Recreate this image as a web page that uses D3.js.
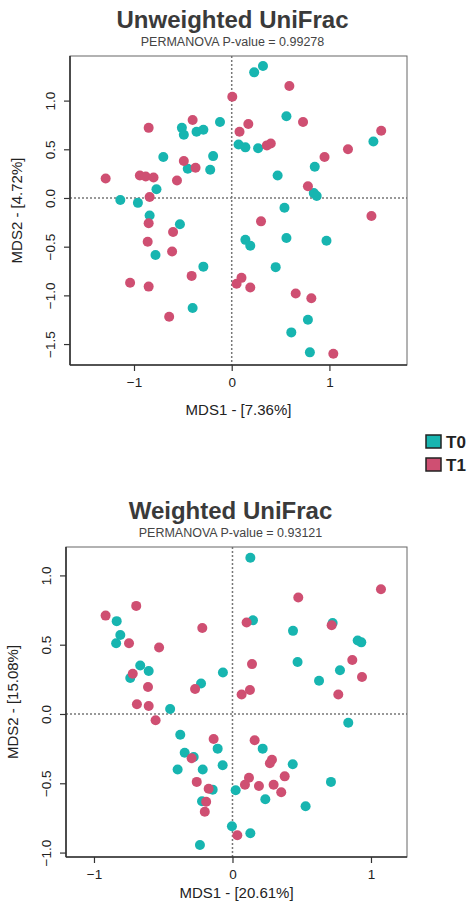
<!DOCTYPE html>
<html>
<head>
<meta charset="utf-8">
<script src="https://cdn.jsdelivr.net/npm/d3@7"></script>
<style>
  body { margin: 0; background: #fff; }
  text { font-family: "Liberation Sans", Arial, sans-serif; }
</style>
</head>
<body>
<div id="chart"></div>
<script>
var svgWidth = 474;
var svgHeight = 907;

// groups and colours
var groups = ["T0", "T1"];
var groupColors = ["#17b5b0", "#cf4f72"];

// Unweighted UniFrac coordinates [MDS1, MDS2]
var unweightedT0 = [
  [-0.51, 0.72], [-0.49, 0.65], [-0.36, 0.68], [-0.29, 0.70], [-0.12, 0.78],
  [0.07, 0.55], [-0.70, 0.42], [-0.19, 0.43], [-0.45, 0.30], [-0.22, 0.29],
  [-0.77, 0.09], [-1.14, -0.02], [-0.96, -0.05], [-0.84, -0.18], [-0.53, -0.27],
  [-0.78, -0.585], [-0.29, -0.705], [-0.40, -1.13], [0.23, 1.29], [0.32, 1.355],
  [0.56, 0.84], [0.14, 0.52], [0.27, 0.51], [1.45, 0.58], [0.85, 0.32],
  [0.47, 0.23], [0.84, 0.05], [0.87, 0.02], [0.54, -0.10], [0.14, -0.43],
  [0.19, -0.49], [0.56, -0.41], [0.97, -0.44], [0.45, -0.71], [0.78, -1.25],
  [0.61, -1.38], [0.80, -1.585]
];
var unweightedT1 = [
  [0.006, 1.04], [-0.40, 0.80], [-0.85, 0.72], [0.08, 0.68], [-0.49, 0.38],
  [-0.37, 0.31], [-1.29, 0.20], [-0.94, 0.23], [-0.88, 0.22], [-0.80, 0.21],
  [-0.56, 0.18], [-0.84, 0.01], [-0.85, -0.26], [-0.60, -0.35], [-0.86, -0.45],
  [-0.61, -0.55], [-0.41, -0.80], [-1.04, -0.87], [-0.85, -0.91], [-0.64, -1.22],
  [0.59, 1.15], [0.17, 0.76], [0.73, 0.78], [0.36, 0.54], [0.40, 0.56],
  [1.53, 0.69], [0.95, 0.42], [1.19, 0.50], [0.78, 0.12], [0.30, -0.24],
  [1.43, -0.185], [0.10, -0.82], [0.05, -0.88], [0.19, -0.92], [0.655, -0.98],
  [0.815, -1.03], [1.04, -1.60]
];

// Weighted UniFrac coordinates [MDS1, MDS2]
var weightedT0 = [
  [-0.836, 0.67], [-0.81, 0.57], [-0.84, 0.51], [-0.666, 0.35], [-0.605, 0.31],
  [-0.738, 0.26], [-0.227, 0.22], [-0.069, 0.30], [-0.45, 0.036], [-0.377, -0.15],
  [-0.107, -0.25], [-0.345, -0.28], [-0.28, -0.31], [-0.071, -0.37], [-0.396, -0.40],
  [-0.215, -0.40], [-0.143, -0.546], [0.023, -0.55], [-0.22, -0.63], [-0.004, -0.81],
  [-0.235, -0.945], [0.836, -0.063], [0.218, -0.25], [0.435, -0.363], [0.711, -0.49],
  [0.237, -0.615], [0.528, -0.666], [0.129, -0.86], [0.129, 1.128], [0.148, 0.676],
  [0.723, 0.656], [0.437, 0.60], [0.904, 0.53], [0.93, 0.517], [0.47, 0.375],
  [0.776, 0.315], [0.625, 0.24]
];
var weightedT1 = [
  [-0.695, 0.78], [-0.916, 0.71], [-0.747, 0.51], [-0.53, 0.48], [-0.218, 0.62],
  [-0.72, 0.29], [-0.61, 0.195], [-0.27, 0.18], [-0.69, 0.07], [-0.605, 0.058],
  [-0.555, -0.045], [-0.136, -0.18], [-0.295, -0.32], [-0.258, -0.49], [-0.172, -0.54],
  [-0.19, -0.633], [-0.20, -0.705], [0.035, -0.875], [0.16, -0.19], [0.285, -0.33],
  [0.27, -0.356], [0.377, -0.45], [0.119, -0.46], [0.09, -0.51], [0.191, -0.52],
  [0.297, -0.51], [0.352, -0.565], [1.072, 0.90], [0.475, 0.84], [0.102, 0.66],
  [0.716, 0.64], [0.865, 0.39], [0.141, 0.36], [0.935, 0.267], [0.126, 0.173],
  [0.066, 0.14], [0.764, 0.14]
];

// tick labels
var unweightedXTicks = [-1, 0, 1];
var unweightedYTicks = [-1.5, -1.0, -0.5, 0.0, 0.5, 1.0];
var weightedXTicks = [-1, 0, 1];
var weightedYTicks = [-1.0, -0.5, 0.0, 0.5, 1.0];

var svg = d3.select("#chart")
  .append("svg")
  .attr("width", svgWidth)
  .attr("height", svgHeight);

// draw one ordination panel
function drawPanel(p) {
  var x = d3.scaleLinear().domain(p.xDomain).range([p.left, p.right]);
  var y = d3.scaleLinear().domain(p.yDomain).range([p.bottom, p.top]);
  var midX = (p.left + p.right) / 2 - 6;

  // titles
  svg.append("text")
    .attr("x", midX).attr("y", p.top - 28)
    .attr("text-anchor", "middle")
    .attr("font-size", 24).attr("font-weight", "bold")
    .attr("fill", "#3a3a3a")
    .text(p.title);
  svg.append("text")
    .attr("x", midX).attr("y", p.top - 10)
    .attr("text-anchor", "middle")
    .attr("font-size", 12.5)
    .attr("fill", "#444")
    .text(p.subtitle);

  // zero lines
  svg.append("line")
    .attr("x1", x(0)).attr("x2", x(0))
    .attr("y1", p.top).attr("y2", p.bottom)
    .attr("stroke", "#777").attr("stroke-width", 1.5)
    .attr("stroke-dasharray", "2,2");
  svg.append("line")
    .attr("x1", p.left).attr("x2", p.right)
    .attr("y1", y(0)).attr("y2", y(0))
    .attr("stroke", "#777").attr("stroke-width", 1.5)
    .attr("stroke-dasharray", "2,2");

  // points, T0 first then T1 on top
  p.series.forEach(function(s, i) {
    svg.append("g").selectAll("circle")
      .data(s)
      .enter()
      .append("circle")
      .attr("cx", d => x(d[0]))
      .attr("cy", d => y(d[1]))
      .attr("r", 5)
      .attr("fill", groupColors[i]);
  });

  // frame
  svg.append("rect")
    .attr("x", p.left).attr("y", p.top)
    .attr("width", p.right - p.left).attr("height", p.bottom - p.top)
    .attr("fill", "none").attr("stroke", "#666").attr("stroke-width", 1);

  // axes
  var xAxis = svg.append("g")
    .attr("transform", `translate(0, ${p.bottom})`)
    .call(d3.axisBottom(x).tickValues(p.xTicks).tickSize(6).tickSizeOuter(0).tickFormat(d3.format("d")));
  var yAxis = svg.append("g")
    .attr("transform", `translate(${p.left}, 0)`)
    .call(d3.axisLeft(y).tickValues(p.yTicks).tickSize(6).tickSizeOuter(0).tickFormat(d3.format(".1f")));

  [xAxis, yAxis].forEach(function(a) {
    a.select(".domain").attr("stroke", "#333").attr("stroke-width", 1.6)
      .attr("d", a === xAxis ? `M${p.left},0H${p.right}` : `M0,${p.top}V${p.bottom}`);
    a.selectAll(".tick line").attr("stroke", "#333").attr("stroke-width", 1.2);
    a.selectAll("text").attr("font-size", 13.5).attr("fill", "#222")
      .style("font-family", "'Liberation Sans', Arial, sans-serif");
  });
  xAxis.selectAll("text").attr("y", 12);
  yAxis.selectAll("text")
    .attr("transform", "rotate(-90)")
    .attr("x", 0).attr("y", -15).attr("dy", 0)
    .attr("text-anchor", "middle");

  // axis titles
  svg.append("text")
    .attr("x", (p.left + p.right) / 2).attr("y", p.bottom + p.xLabelGap)
    .attr("text-anchor", "middle")
    .attr("font-size", 15).attr("fill", "#222")
    .text(p.xLabel);
  svg.append("text")
    .attr("transform", `translate(${p.left - 48}, ${(p.top + p.bottom) / 2}) rotate(-90)`)
    .attr("text-anchor", "middle")
    .attr("font-size", 15).attr("fill", "#222")
    .text(p.yLabel);
}

drawPanel({
  title: "Unweighted UniFrac",
  subtitle: "PERMANOVA P-value = 0.99278",
  xLabel: "MDS1 - [7.36%]",
  yLabel: "MDS2 - [4.72%]",
  series: [unweightedT0, unweightedT1],
  xTicks: unweightedXTicks,
  yTicks: unweightedYTicks,
  xDomain: [-1.655, 1.794],
  yDomain: [-1.715, 1.458],
  left: 70, right: 407, top: 56, bottom: 365, xLabelGap: 50
});

drawPanel({
  title: "Weighted UniFrac",
  subtitle: "PERMANOVA P-value = 0.93121",
  xLabel: "MDS1 - [20.61%]",
  yLabel: "MDS2 - [15.08%]",
  series: [weightedT0, weightedT1],
  xTicks: weightedXTicks,
  yTicks: weightedYTicks,
  xDomain: [-1.202, 1.260],
  yDomain: [-1.032, 1.205],
  left: 66, right: 407, top: 547, bottom: 857, xLabelGap: 41
});

// legend
var legend = svg.append("g").attr("transform", "translate(426, 435)");
groups.forEach(function(g, i) {
  legend.append("rect")
    .attr("x", 0).attr("y", i * 23)
    .attr("width", 15).attr("height", 13)
    .attr("fill", groupColors[i])
    .attr("stroke", "#222").attr("stroke-width", 1.5);
  legend.append("text")
    .attr("x", 20).attr("y", i * 23 + 13)
    .attr("font-size", 17).attr("font-weight", "bold")
    .attr("fill", "#222")
    .text(g);
});
</script>
</body>
</html>
